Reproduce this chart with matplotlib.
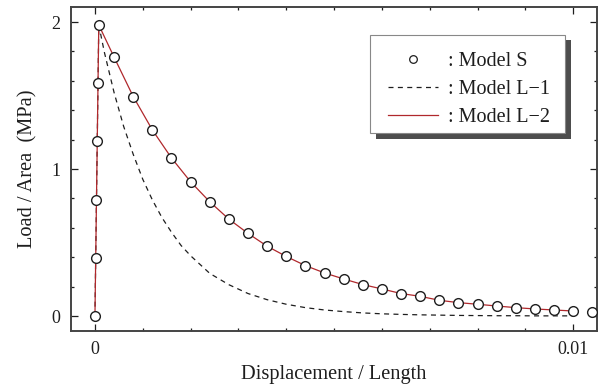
import matplotlib
matplotlib.use('Agg')
from matplotlib import pyplot as plt
from matplotlib.ticker import MultipleLocator, FixedLocator
from matplotlib.lines import Line2D
from matplotlib.patches import Rectangle

# values
model_s_x = [0, 0.000016, 0.000032, 0.000048, 0.000064, 0.00008,
             0.0004, 0.0008, 0.0012, 0.0016, 0.0020, 0.0024, 0.0028,
             0.0032, 0.0036, 0.0040, 0.0044, 0.0048, 0.0052, 0.0056,
             0.0060, 0.0064, 0.0068, 0.0072, 0.0076, 0.0080, 0.0084,
             0.0088, 0.0092, 0.0096, 0.0100, 0.0104]
model_s_y = [0, 0.396, 0.792, 1.188, 1.584, 1.98,
             1.761, 1.493, 1.266, 1.075, 0.913, 0.777, 0.659,
             0.562, 0.475, 0.405, 0.343, 0.293, 0.252, 0.214,
             0.184, 0.153, 0.134, 0.107, 0.091, 0.080, 0.068,
             0.057, 0.048, 0.041, 0.034, 0.030]

l1_x = [0, 0.00008, 0.0002, 0.0004, 0.0006, 0.0008, 0.0010, 0.0012, 0.0014,
        0.0016, 0.0018, 0.0020, 0.0024, 0.0028, 0.0032, 0.0036, 0.0040,
        0.0044, 0.0048, 0.0052, 0.0056, 0.0060, 0.0064, 0.0068, 0.0072,
        0.0076, 0.0080, 0.0084, 0.0088, 0.0092, 0.0096, 0.0100]
l1_y = [0, 1.98, 1.79, 1.52, 1.29, 1.10, 0.93, 0.79, 0.67,
        0.57, 0.48, 0.41, 0.29, 0.213, 0.153, 0.111, 0.080,
        0.057, 0.041, 0.030, 0.021, 0.015, 0.011, 0.008, 0.006,
        0.004, 0.003, 0.002, 0.002, 0.001, 0.001, 0.001]

# Model L-2 follows the Model S points up to 0.01
l2_x = model_s_x[:-1]
l2_y = model_s_y[:-1]

legend_labels = [': Model S', ': Model L\u22121', ': Model L\u22122']

red = '#b0282c'
ink = '#1e1e1e'

plt.rcParams['font.family'] = ['Liberation Serif', 'DejaVu Serif']
plt.rcParams['text.color'] = ink
plt.rcParams['axes.labelcolor'] = ink
plt.rcParams['xtick.color'] = ink
plt.rcParams['ytick.color'] = ink

fig = plt.figure(figsize=(6.02, 3.85), dpi=100)
ax = fig.add_axes([0.118, 0.141, 0.874, 0.84])

ax.plot(l1_x, l1_y, color=ink, lw=0.9, linestyle=(0, (4, 3.5)), zorder=2)
ax.plot(l2_x, l2_y, color=red, lw=0.9, zorder=3)
ax.plot(model_s_x, model_s_y, linestyle='none', marker='o', markersize=7,
        markerfacecolor='white', markeredgecolor=ink, markeredgewidth=1.0,
        zorder=4)

ax.set_xlim(-0.0005, 0.0105)
ax.set_ylim(-0.1, 2.1)

ax.xaxis.set_major_locator(FixedLocator([0, 0.01]))
ax.xaxis.set_minor_locator(MultipleLocator(0.001))
ax.set_xticklabels(['0', '0.01'])
ax.yaxis.set_major_locator(FixedLocator([0, 1, 2]))
ax.yaxis.set_minor_locator(MultipleLocator(0.2))
ax.set_yticklabels(['0', '1', '2'])

ax.tick_params(which='both', direction='in', top=True, right=True,
               width=0.9, labelsize=13, pad=7.5)
ax.tick_params(which='major', length=5)
ax.tick_params(which='minor', length=2.5)
for s in ax.spines.values():
    s.set_linewidth(1.4)
    s.set_color('#444444')

ax.set_xlabel('Displacement / Length', fontsize=14.7, labelpad=5)
ax.set_ylabel('Load / Area  (MPa)', fontsize=14.7, labelpad=10)

# legend box with a hard drop shadow, drawn by hand
bx, by, bw, bh = 0.5684, 0.6104, 0.3708, 0.304
ax.add_patch(Rectangle((bx + 0.0105, by - 0.017), bw, bh, transform=ax.transAxes,
                       facecolor='#4d4d4d', edgecolor='none', clip_on=False,
                       zorder=8))
ax.add_patch(Rectangle((bx, by), bw, bh, transform=ax.transAxes,
                       facecolor='white', edgecolor='#888888', lw=0.8,
                       clip_on=False, zorder=9))

handles = [
    Line2D([], [], linestyle='none', marker='o', markersize=5.5,
           markerfacecolor='white', markeredgecolor=ink, markeredgewidth=0.9),
    Line2D([], [], color=ink, lw=0.9, linestyle=(0, (4, 3.5))),
    Line2D([], [], color=red, lw=0.9),
]
leg = ax.legend(handles, legend_labels, loc='upper left',
                bbox_to_anchor=(0.6027, 0.862), borderaxespad=0, borderpad=0,
                fontsize=14.5, handlelength=2.5, handletextpad=0.45,
                labelspacing=0.43, frameon=False)
leg.set_zorder(10)

fig.savefig('out.png', dpi=100)
